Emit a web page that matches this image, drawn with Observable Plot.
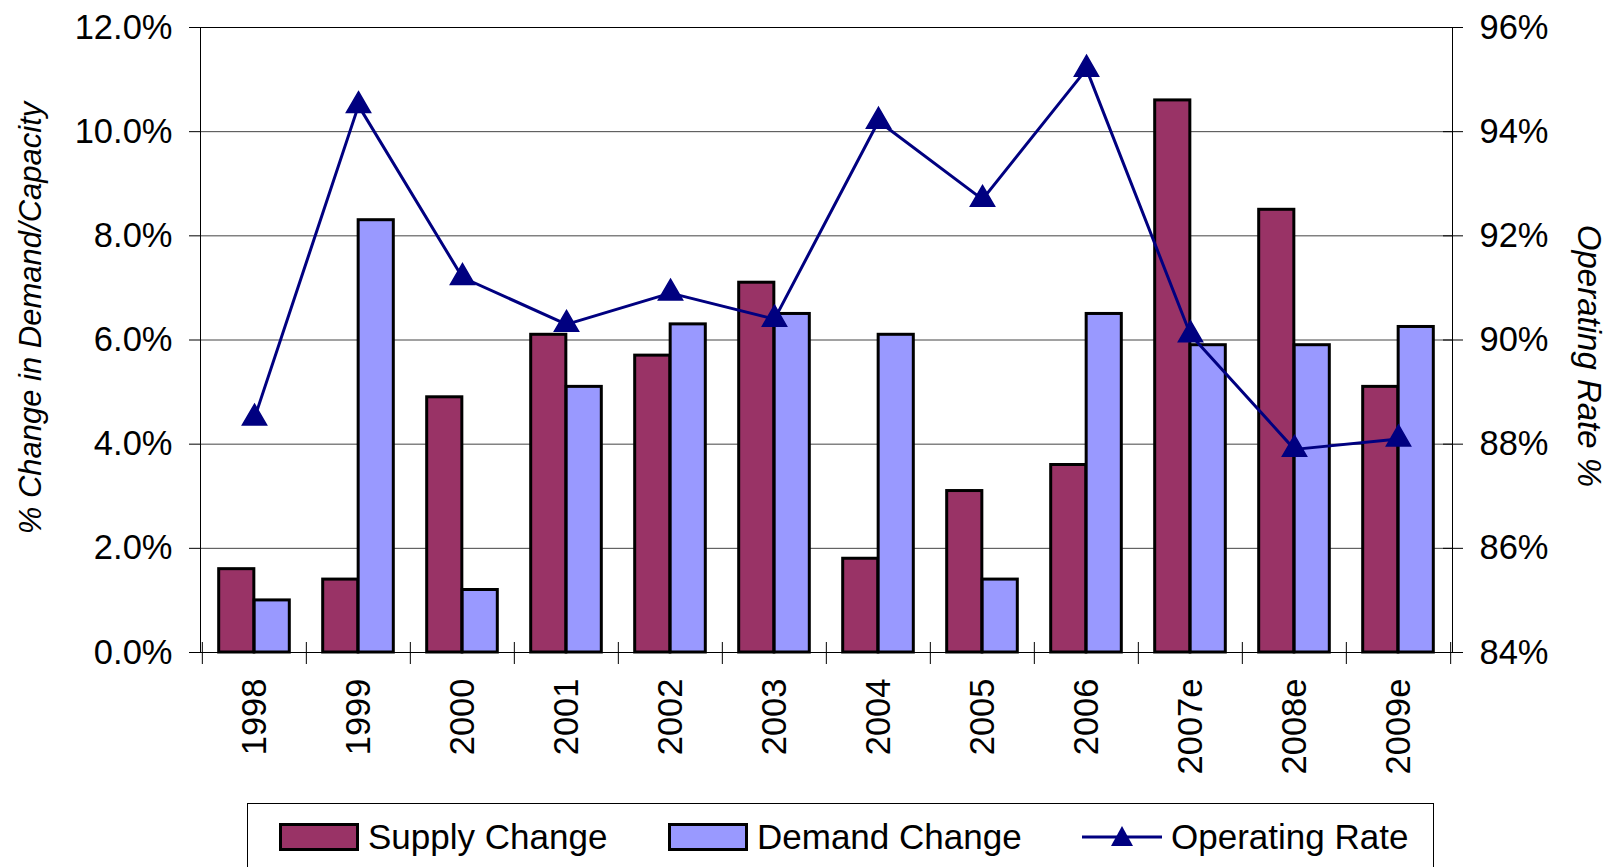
<!DOCTYPE html>
<html>
<head>
<meta charset="utf-8">
<script src="https://cdn.jsdelivr.net/npm/d3@7"></script>
<script src="https://cdn.jsdelivr.net/npm/@observablehq/plot@0.6"></script>
<style>
  html, body { margin: 0; padding: 0; background: #fff; overflow: hidden; }
  body { width: 1611px; height: 867px; position: relative; font-family: "Liberation Sans", Arial, sans-serif; }
  #chart { position: absolute; left: 0; top: 0; }
  #legend { position: absolute; left: 247px; top: 803px; width: 1187px; height: 90px;
            border: 1.5px solid #000; box-sizing: border-box; }
  .item { position: absolute; top: 13px; display: flex; align-items: center; font-size: 35px; color: #000; white-space: nowrap; }
  .item svg { margin-right: 9px; }
</style>
</head>
<body>
<div id="chart"></div>
<div id="legend"></div>
<script>
const years = ["1998","1999","2000","2001","2002","2003","2004","2005","2006","2007e","2008e","2009e"];
const supplyChange = [1.6, 1.4, 4.9, 6.1, 5.7, 7.1, 1.8, 3.1, 3.6, 10.6, 8.5, 5.1];
const demandChange = [1.0, 8.3, 1.2, 5.1, 6.3, 6.5, 6.1, 1.4, 6.5, 5.9, 5.9, 6.25];
const operatingRate = [88.5, 94.5, 91.2, 90.3, 90.9, 90.4, 94.2, 92.7, 95.2, 90.1, 87.9, 88.1];
const leftTicks = [0, 2, 4, 6, 8, 10, 12];
const rightTicks = [84, 86, 88, 90, 92, 94, 96];
const rightBase = 84;
const seriesNames = ["Supply Change", "Demand Change", "Operating Rate"];
const colors = {supply: "#993366", demand: "#9999FF", rate: "#000080"};

const rows = years.map((y, i) => ({year: y, supply: supplyChange[i], demand: demandChange[i], rate: operatingRate[i]}));

const W = 1611, H = 800, mL = 200, mR = 159, mT = 27, mB = 148;
const bw = (W - mL - mR) / years.length;
const barW = bw * 0.34;
const font = "Liberation Sans, Arial, sans-serif";

const chart = Plot.plot({
  width: W, height: H,
  marginLeft: mL, marginRight: mR, marginTop: mT, marginBottom: mB,
  style: {fontFamily: font, background: "#fff", color: "#000"},
  x: {type: "band", domain: years, padding: 0},
  y: {domain: [0, 12]},
  marks: [
    Plot.ruleY(leftTicks, {stroke: "#444", strokeWidth: 1}),
    Plot.barY(rows, {x: "year", y: "supply", fill: colors.supply, stroke: "#000", strokeWidth: 3,
      insetLeft: bw / 2 - barW, insetRight: bw / 2}),
    Plot.barY(rows, {x: "year", y: "demand", fill: colors.demand, stroke: "#000", strokeWidth: 3,
      insetLeft: bw / 2, insetRight: bw / 2 - barW}),
    Plot.frame({stroke: "#000", strokeWidth: 1}),
    Plot.axisY({ticks: leftTicks, tickFormat: d => d.toFixed(1) + "%", tickSize: 11, tickPadding: 17, fontSize: 34.5, label: null}),
    Plot.axisY({anchor: "right", ticks: rightTicks.map(t => t - rightBase), tickFormat: d => (d + rightBase) + "%",
      tickSize: 20, dx: -10, tickPadding: 17, fontSize: 34.5, label: null}),
    Plot.axisX({ticks: years, tickSize: 22, dy: -10, dx: -bw / 2, tickFormat: () => "", label: null}),
    Plot.axisX({ticks: [years[years.length - 1]], tickSize: 22, dy: -10, dx: bw / 2, tickFormat: () => "", label: null}),
    Plot.axisX({tickSize: 0, tickRotate: -90, tickPadding: 26, fontSize: 34.5, label: null}),
    Plot.line(rows, {x: "year", y: d => d.rate - rightBase, stroke: colors.rate, strokeWidth: 3}),
    Plot.dot(rows, {x: "year", y: d => d.rate - rightBase, symbol: "triangle", r: 9, fill: colors.rate, stroke: colors.rate}),
    Plot.text(["% Change in Demand/Capacity"], {frameAnchor: "left", textAnchor: "middle", text: d => d, rotate: -90, dx: -169, dy: -22,
      fontSize: 31, fontStyle: "italic", fill: "#000"}),
    Plot.text(["Operating Rate %"], {frameAnchor: "right", textAnchor: "middle", text: d => d, rotate: 90, dx: 136, dy: 16,
      fontSize: 33, fontStyle: "italic", fill: "#000"})
  ]
});
document.getElementById("chart").appendChild(chart);

// Legend
const legend = document.getElementById("legend");
const legendItems = [
  {name: seriesNames[0], type: "bar", color: colors.supply, left: 31},
  {name: seriesNames[1], type: "bar", color: colors.demand, left: 420},
  {name: seriesNames[2], type: "line", color: colors.rate, left: 834}
];
for (const it of legendItems) {
  const div = document.createElement("div");
  div.className = "item";
  div.style.left = it.left + "px";
  let sw;
  if (it.type === "bar") {
    sw = `<svg width="80" height="28"><rect x="1.5" y="1.5" width="77" height="25" fill="${it.color}" stroke="#000" stroke-width="3"/></svg>`;
  } else {
    sw = `<svg width="80" height="28"><line x1="0" y1="14" x2="80" y2="14" stroke="${it.color}" stroke-width="3"/><path d="M40,3 L51,23 L29,23 Z" fill="${it.color}"/></svg>`;
  }
  div.innerHTML = sw + `<span>${it.name}</span>`;
  legend.appendChild(div);
}
</script>
</body>
</html>
